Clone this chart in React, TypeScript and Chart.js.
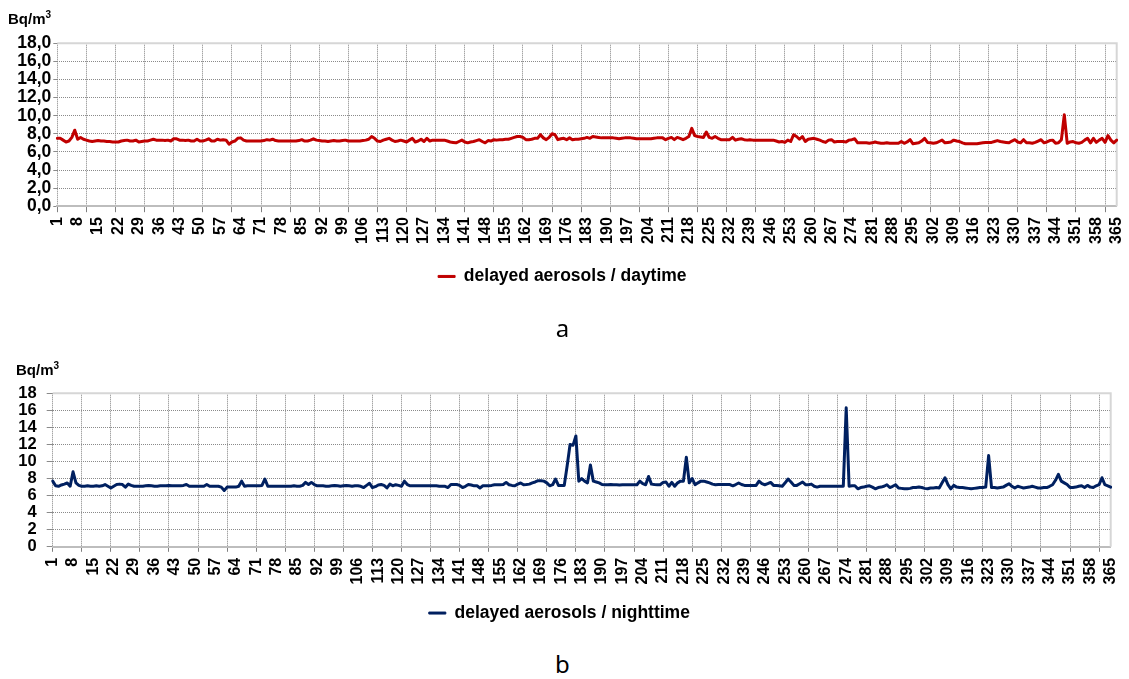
import React, { useEffect, useRef } from 'react';
import { Chart, registerables } from 'chart.js';

Chart.register(...registerables);

// ---- DATA ----
const dayLabels: string[] = Array.from({ length: 365 }, (_, i) => String(i + 1));

const yTicks: number[] = [0, 2, 4, 6, 8, 10, 12, 14, 16, 18];

const daytimeLabel = 'delayed aerosols / daytime';
const nighttimeLabel = 'delayed aerosols / nighttime';
const unitLabel = 'Bq/m';

const daytime: number[] = [
  7.5, 7.5, 7.3, 7.1, 7.2, 7.6, 8.4, 7.4, 7.6, 7.4,
  7.3, 7.2, 7.15, 7.2, 7.25, 7.2, 7.2, 7.15, 7.15, 7.1,
  7.1, 7.1, 7.2, 7.25, 7.3, 7.2, 7.2, 7.3, 7.1, 7.15,
  7.2, 7.2, 7.3, 7.4, 7.3, 7.3, 7.3, 7.25, 7.3, 7.2,
  7.45, 7.45, 7.3, 7.3, 7.25, 7.3, 7.2, 7.2, 7.4, 7.2,
  7.2, 7.3, 7.45, 7.2, 7.2, 7.4, 7.3, 7.35, 7.3, 6.85,
  7.1, 7.2, 7.5, 7.55, 7.3, 7.2, 7.2, 7.2, 7.2, 7.2,
  7.2, 7.25, 7.35, 7.3, 7.4, 7.25, 7.2, 7.2, 7.2, 7.2,
  7.2, 7.2, 7.2, 7.25, 7.35, 7.2, 7.2, 7.3, 7.45, 7.3,
  7.25, 7.2, 7.2, 7.15, 7.2, 7.25, 7.2, 7.2, 7.25, 7.3,
  7.2, 7.2, 7.2, 7.2, 7.2, 7.25, 7.3, 7.4, 7.7, 7.5,
  7.2, 7.15, 7.3, 7.4, 7.5, 7.3, 7.15, 7.2, 7.3, 7.2,
  7.1, 7.3, 7.5, 7.1, 7.2, 7.4, 7.15, 7.5, 7.2, 7.3,
  7.3, 7.3, 7.3, 7.3, 7.2, 7.1, 7.05, 7.0, 7.15, 7.3,
  7.1, 7.0, 7.1, 7.15, 7.25, 7.35, 7.15, 7.0, 7.25, 7.2,
  7.35, 7.3, 7.35, 7.35, 7.4, 7.4, 7.5, 7.6, 7.7, 7.7,
  7.6, 7.35, 7.35, 7.4, 7.5, 7.5, 7.9, 7.55, 7.35, 7.6,
  8.0, 7.9, 7.35, 7.45, 7.5, 7.35, 7.55, 7.35, 7.4, 7.4,
  7.45, 7.5, 7.6, 7.5, 7.7, 7.65, 7.6, 7.55, 7.55, 7.55,
  7.55, 7.55, 7.5, 7.45, 7.5, 7.55, 7.55, 7.55, 7.5, 7.45,
  7.45, 7.45, 7.45, 7.45, 7.45, 7.5, 7.55, 7.55, 7.55, 7.35,
  7.5, 7.6, 7.35, 7.6, 7.5, 7.35, 7.5, 7.7, 8.6, 7.8,
  7.7, 7.65, 7.6, 8.2, 7.6, 7.5, 7.7, 7.5, 7.35, 7.35,
  7.35, 7.35, 7.6, 7.3, 7.4, 7.45, 7.35, 7.3, 7.35, 7.3,
  7.3, 7.3, 7.3, 7.3, 7.3, 7.3, 7.3, 7.2, 7.1, 7.15,
  7.05, 7.3, 7.15, 7.9, 7.7, 7.4, 7.7, 7.15, 7.4, 7.45,
  7.5, 7.4, 7.3, 7.15, 7.05, 7.3, 7.35, 7.1, 7.15, 7.15,
  7.15, 7.1, 7.3, 7.35, 7.45, 7.0, 7.0, 7.0, 7.0, 6.95,
  7.0, 7.1, 7.0, 6.95, 6.95, 7.0, 6.95, 6.95, 6.95, 6.95,
  7.15, 6.95, 7.1, 7.35, 6.9, 6.95, 7.0, 7.2, 7.5, 7.05,
  7.0, 6.95, 7.0, 7.15, 7.3, 7.0, 7.05, 7.1, 7.3, 7.2,
  7.15, 7.0, 6.9, 6.9, 6.9, 6.9, 6.9, 6.95, 7.0, 7.05,
  7.05, 7.05, 7.15, 7.25, 7.15, 7.1, 7.05, 7.0, 7.2, 7.35,
  7.1, 7.0, 7.35, 7.0, 7.0, 6.95, 7.05, 7.2, 7.35, 7.0,
  7.1, 7.25, 7.3, 6.95, 7.0, 7.35, 10.1, 6.95, 7.1, 7.15,
  7.0, 6.95, 7.05, 7.3, 7.5, 7.0, 7.5, 7.05, 7.3, 7.5,
  7.05, 7.8, 7.3, 7.0, 7.3,
];

const nighttime: number[] = [
  7.7, 7.15, 7.1, 7.25, 7.35, 7.48, 7.1, 8.8, 7.5, 7.2,
  7.1, 7.1, 7.15, 7.1, 7.1, 7.15, 7.1, 7.15, 7.3, 7.1,
  6.9, 7.1, 7.3, 7.35, 7.3, 7.0, 7.35, 7.2, 7.1, 7.1,
  7.1, 7.1, 7.15, 7.2, 7.15, 7.1, 7.1, 7.15, 7.15, 7.15,
  7.2, 7.15, 7.15, 7.15, 7.15, 7.2, 7.3, 7.1, 7.1, 7.1,
  7.1, 7.1, 7.1, 7.3, 7.1, 7.1, 7.1, 7.1, 7.0, 6.6,
  7.0, 7.0, 7.0, 7.0, 7.1, 7.7, 7.1, 7.15, 7.15, 7.15,
  7.15, 7.15, 7.2, 7.95, 7.1, 7.1, 7.1, 7.1, 7.1, 7.1,
  7.1, 7.1, 7.1, 7.15, 7.1, 7.1, 7.2, 7.55, 7.3, 7.55,
  7.3, 7.15, 7.15, 7.15, 7.1, 7.1, 7.15, 7.2, 7.15, 7.1,
  7.15, 7.2, 7.15, 7.1, 7.15, 7.15, 7.1, 6.95, 7.2, 7.45,
  6.95, 7.05, 7.25, 7.3, 7.2, 6.9, 7.35, 7.15, 7.28, 7.2,
  7.1, 7.7, 7.3, 7.15, 7.17, 7.17, 7.17, 7.17, 7.17, 7.17,
  7.17, 7.17, 7.15, 7.1, 7.1, 7.1, 6.95, 7.3, 7.3, 7.3,
  7.2, 6.95, 7.1, 7.3, 7.25, 7.15, 7.15, 6.9, 7.15, 7.15,
  7.15, 7.2, 7.28, 7.28, 7.28, 7.3, 7.55, 7.28, 7.2, 7.15,
  7.35, 7.48, 7.28, 7.3, 7.35, 7.5, 7.6, 7.75, 7.75, 7.7,
  7.5, 7.15, 7.28, 7.95, 7.2, 7.2, 7.2, 9.5, 12.0, 11.9,
  13.0, 7.7, 8.0, 7.7, 7.5, 9.6, 7.7, 7.6, 7.5, 7.3,
  7.28, 7.28, 7.3, 7.28, 7.28, 7.25, 7.28, 7.28, 7.28, 7.28,
  7.28, 7.28, 7.7, 7.4, 7.28, 8.25, 7.35, 7.3, 7.28, 7.28,
  7.55, 7.6, 7.1, 7.55, 7.1, 7.5, 7.7, 7.7, 10.5, 7.5,
  8.0, 7.28, 7.5, 7.7, 7.7, 7.6, 7.5, 7.35, 7.28, 7.3,
  7.3, 7.3, 7.3, 7.3, 7.15, 7.3, 7.48, 7.3, 7.2, 7.2,
  7.2, 7.2, 7.2, 7.7, 7.4, 7.28, 7.4, 7.55, 7.2, 7.2,
  7.15, 7.1, 7.5, 7.95, 7.6, 7.2, 7.2, 7.4, 7.6, 7.28,
  7.28, 7.35, 7.1, 7.0, 7.1, 7.1, 7.1, 7.1, 7.1, 7.1,
  7.1, 7.1, 7.1, 16.3, 7.1, 7.15, 7.15, 6.8, 6.95, 7.0,
  7.1, 7.15, 7.0, 6.8, 6.95, 7.0, 7.1, 7.28, 6.95, 7.1,
  7.28, 6.9, 6.85, 6.8, 6.8, 6.85, 6.95, 6.95, 7.0, 6.95,
  6.85, 6.8, 6.9, 6.9, 6.95, 6.9, 7.5, 8.1, 7.3, 6.8,
  7.2, 7.0, 6.95, 6.95, 6.9, 6.85, 6.8, 6.85, 6.9, 6.95,
  6.95, 7.0, 10.7, 6.95, 6.95, 6.9, 6.95, 7.0, 7.2, 7.4,
  7.1, 6.9, 7.1, 7.0, 6.9, 6.95, 7.0, 7.1, 7.0, 6.9,
  6.9, 6.95, 6.95, 7.1, 7.28, 7.8, 8.5, 7.7, 7.5, 7.3,
  6.95, 6.95, 7.0, 7.1, 7.15, 6.95, 7.2, 7.0, 6.95, 7.15,
  7.28, 8.1, 7.28, 7.15, 7.0,
];

// ---- CHART BUILDER ----
const FONT = "'Liberation Sans', Arial, sans-serif";

const framePlugin = {
  id: 'frame',
  beforeDatasetsDraw(chart: any) {
    const { ctx, chartArea: a } = chart;
    ctx.save();
    ctx.strokeStyle = '#d6d6d6';
    ctx.lineWidth = 2;
    ctx.beginPath();
    ctx.moveTo(a.left, a.top);
    ctx.lineTo(a.right, a.top);
    ctx.lineTo(a.right, a.bottom);
    ctx.stroke();
    ctx.restore();
  },
};

type Opts = {
  values: number[];
  label: string;
  color: string;
  yFormat: (v: number) => string;
  padding: { top: number; left: number; right: number; bottom: number };
  yWidth: number;
  xHeight: number;
  yFontSize: number;
  yTickLength: number;
  yPadding: number;
  xTickLength: number;
  xPadding: number;
};

function makeConfig(o: Opts): any {
  return {
    type: 'line',
    data: {
      labels: dayLabels,
      datasets: [
        {
          label: o.label,
          data: o.values,
          borderColor: o.color,
          backgroundColor: o.color,
          borderWidth: 3,
          borderJoinStyle: 'round',
          borderCapStyle: 'round',
          pointRadius: 0,
          tension: 0,
        },
      ],
    },
    options: {
      responsive: false,
      animation: false,
      devicePixelRatio: 1,
      layout: { padding: o.padding },
      plugins: {
        tooltip: { enabled: false },
        legend: {
          position: 'bottom',
          labels: {
            boxWidth: 17,
            boxHeight: 2,
            padding: 10,
            color: '#000',
            font: { family: FONT, weight: 'bold', size: 17.5 },
            generateLabels: (chart: any) =>
              chart.data.datasets.map((ds: any, i: number) => ({
                text: ds.label,
                fillStyle: ds.borderColor,
                strokeStyle: ds.borderColor,
                lineWidth: 1,
                hidden: false,
                datasetIndex: i,
              })),
          },
        },
      },
      scales: {
        x: {
          type: 'category',
          offset: false,
          afterFit: (s: any) => {
            s.height = o.xHeight;
            s.paddingLeft = 0;
            s.paddingRight = 0;
          },
          grid: {
            color: (c: any) => (c.index % 10 === 0 ? '#808080' : 'rgba(0,0,0,0)'),
            lineWidth: 1,
            tickLength: o.xTickLength,
            offset: false,
          },
          border: { display: true, color: '#bdbdbd', width: 2, dash: [1, 1] },
          ticks: {
            autoSkip: false,
            minRotation: 90,
            maxRotation: 90,
            padding: o.xPadding,
            color: '#000',
            font: { family: FONT, weight: 'bold', size: 16 },
            callback: (v: any, i: number) => (i % 7 === 0 ? dayLabels[i] : ''),
          },
        },
        y: {
          min: 0,
          max: 18,
          afterFit: (s: any) => {
            s.width = o.yWidth;
          },
          afterBuildTicks: (s: any) => {
            s.ticks = yTicks.map((v) => ({ value: v }));
          },
          grid: {
            color: '#8a8a8a',
            lineWidth: 1,
            tickLength: o.yTickLength,
          },
          border: { display: false, dash: [1, 1] },
          ticks: {
            autoSkip: false,
            stepSize: 2,
            padding: o.yPadding,
            color: '#000',
            font: { family: FONT, weight: 'bold', size: o.yFontSize },
            callback: (v: any) => o.yFormat(Number(v)),
          },
        },
      },
    },
    plugins: [framePlugin],
  };
}

function ChartCanvas({ opts, top, height }: { opts: Opts; top: number; height: number }) {
  const ref = useRef<HTMLCanvasElement | null>(null);
  useEffect(() => {
    if (!ref.current) return;
    const chart = new Chart(ref.current, makeConfig(opts));
    return () => chart.destroy();
  }, []);
  return (
    <canvas
      ref={ref}
      width={1129}
      height={height}
      style={{ position: 'absolute', left: 0, top, width: 1129, height }}
    />
  );
}

const unitStyle = (top: number, left: number): React.CSSProperties => ({
  position: 'absolute',
  left,
  top,
  fontFamily: FONT,
  fontWeight: 'bold',
  fontSize: 15,
  lineHeight: '15px',
  color: '#000',
  whiteSpace: 'nowrap',
});

const letterStyle = (top: number): React.CSSProperties => ({
  position: 'absolute',
  left: 0,
  top,
  width: 1125,
  textAlign: 'center',
  fontFamily: "'Noto Sans', 'Open Sans', sans-serif",
  fontSize: 24,
  lineHeight: '24px',
  color: '#000',
});

export default function App() {
  const topOpts: Opts = {
    values: daytime,
    label: daytimeLabel,
    color: '#C00000',
    yFormat: (v) => v.toFixed(1).replace('.', ','),
    padding: { top: 43.3, left: 8, right: 12.3, bottom: 4.8 },
    yWidth: 49.3,
    xHeight: 51.5,
    yFontSize: 17.5,
    yTickLength: 4,
    yPadding: 2,
    xTickLength: 6,
    xPadding: 5,
  };
  const bottomOpts: Opts = {
    values: nighttime,
    label: nighttimeLabel,
    color: '#002060',
    yFormat: (v) => String(Math.round(v)),
    padding: { top: 53.3, left: 8, right: 18.3, bottom: 8.2 },
    yWidth: 44.7,
    xHeight: 47.5,
    yFontSize: 16.5,
    yTickLength: 6,
    yPadding: 10,
    xTickLength: 5,
    xPadding: 6,
  };
  return (
    <div
      style={{
        position: 'fixed',
        left: 0,
        top: 0,
        width: 1129,
        height: 679,
        background: '#fff',
        overflow: 'hidden',
      }}
    >
      <ChartCanvas opts={topOpts} top={0} height={300} />
      <ChartCanvas opts={bottomOpts} top={340} height={300} />
      <div style={unitStyle(10.6, 8)}>
        {unitLabel}
        <span style={{ fontSize: 10, position: 'relative', top: -6 }}>3</span>
      </div>
      <div style={unitStyle(362.3, 16)}>
        {unitLabel}
        <span style={{ fontSize: 10, position: 'relative', top: -6 }}>3</span>
      </div>
      <div style={letterStyle(315.7)}>a</div>
      <div style={letterStyle(651.7)}>b</div>
    </div>
  );
}
